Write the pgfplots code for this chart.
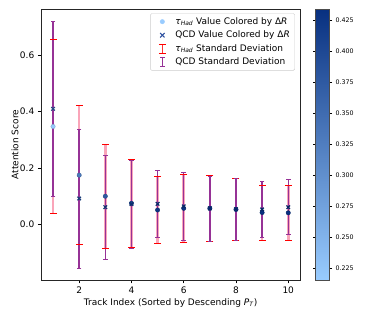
\documentclass[border=0pt]{standalone}
\usepackage{fontspec}
\setmainfont{DejaVu Sans}
\usepackage{pgfplots}
\usepackage{pgfplotstable}
\pgfplotsset{compat=1.18}

\definecolor{cbLow}{RGB}{153,204,255}
\definecolor{cbHigh}{RGB}{8,48,128}
\definecolor{qcdLeg}{RGB}{45,80,160}
\definecolor{errPurple}{RGB}{150,50,150}
\definecolor{errRed}{RGB}{250,165,185}

% x, tau mean, tau dR, qcd mean, qcd dR
\pgfplotstableread{
x  t     tc     q     qc
1  0.347 0.2155 0.410 0.370
2  0.174 0.330  0.091 0.395
3  0.099 0.375  0.060 0.410
4  0.074 0.410  0.071 0.420
5  0.050 0.425  0.072 0.425
6  0.056 0.428  0.063 0.428
7  0.056 0.430  0.056 0.430
8  0.052 0.432  0.053 0.432
9  0.041 0.433  0.052 0.433
10 0.040 0.434  0.060 0.434
}\means

% tau mean -/+ one standard deviation (one segment per track)
\pgfplotstableread{
x   y
1   0.037
1   0.657
1   nan
2  -0.073
2   0.421
2   nan
3  -0.085
3   0.283
3   nan
4  -0.083
4   0.231
4   nan
5  -0.069
5   0.169
5   nan
6  -0.064
6   0.176
6   nan
7  -0.060
7   0.172
7   nan
8  -0.058
8   0.162
8   nan
9  -0.057
9   0.139
9   nan
10 -0.058
10  0.138
}\tauerr

% QCD mean -/+ one standard deviation
\pgfplotstableread{
x   y
1   0.100
1   0.720
1   nan
2  -0.156
2   0.338
2   nan
3  -0.124
3   0.244
3   nan
4  -0.086
4   0.228
4   nan
5  -0.046
5   0.190
5   nan
6  -0.057
6   0.183
6   nan
7  -0.060
7   0.171
7   nan
8  -0.057
8   0.162
8   nan
9  -0.046
9   0.150
9   nan
10 -0.037
10  0.158
}\qcderr

\newcommand{\tauhad}{\textit{τ}\textsubscript{\textit{Had}}}

\begin{document}
\begin{tikzpicture}
\begin{axis}[
  name=main,
  scale only axis,
  width=258.7pt, height=270.7pt,
  xmin=0.55, xmax=10.45,
  ymin=-0.199, ymax=0.764,
  xtick={2,4,6,8,10},
  ytick={0,0.2,0.4,0.6},
  yticklabel style={/pgf/number format/.cd, fixed, fixed zerofill, precision=1},
  /pgf/number format/assume math mode=true,
  tick align=outside,
  xtick pos=bottom, ytick pos=left,
  major tick length=3.5pt,
  tick style={black, line width=0.6pt},
  axis line style={black!85, line width=0.6pt},
  ticklabel style={font=\fontsize{9}{10}\selectfont},
  label style={font=\fontsize{9}{10}\selectfont},
  xlabel={Track Index (Sorted by Descending \textit{P}\textsubscript{\textit{T}})},
  ylabel={Attention Score},
  xlabel style={at={(axis description cs:0.5,-0.0924)}, anchor=base},
  ylabel style={at={(axis description cs:-0.0889,0.5)}, anchor=base, rotate=0},
  unbounded coords=jump,
  colormap={drblues}{rgb255=(153,204,255) rgb255=(8,48,128)},
  point meta min=0.2155, point meta max=0.434,
  colorbar,
  colorbar style={
    at={(parent axis.north east)}, anchor=north west, xshift=7pt,
    scale only axis, width=14pt, height=270.7pt,
    ytick={0.225,0.25,0.275,0.3,0.325,0.35,0.375,0.4,0.425},
    yticklabel style={font=\fontsize{6.3}{7}\selectfont,
      /pgf/number format/.cd, fixed, fixed zerofill, precision=3,
      assume math mode=true},
    tick align=outside, major tick length=2.5pt,
    tick style={black, line width=0.5pt},
    axis line style={black!70, line width=0.6pt},
  },
  legend style={at={(1,1)}, anchor=north east, xshift=-5pt, yshift=-4pt,
    draw=black!20, fill=white, rounded corners=1.5pt,
    font=\fontsize{9}{10}\selectfont, row sep=1.2pt,
    inner xsep=3pt, inner ysep=2pt},
  legend cell align=left,
]
\addlegendimage{legend image code/.code={
  \path[draw=none] (0pt,0pt) -- (20pt,0pt);
  \fill[cbLow] (9pt,0pt) circle (2.2pt);}}
\addlegendentry{\tauhad{} Value Colored by Δ\textit{R}}
\addlegendimage{legend image code/.code={
  \path[draw=none] (0pt,0pt) -- (20pt,0pt);
  \draw[qcdLeg, line width=1.1pt] (9pt-2.2pt,-2.2pt) -- (9pt+2.2pt,2.2pt) (9pt-2.2pt,2.2pt) -- (9pt+2.2pt,-2.2pt);}}
\addlegendentry{QCD Value Colored by Δ\textit{R}}
\addlegendimage{legend image code/.code={
  \path[draw=none] (0pt,0pt) -- (20pt,0pt);
  \draw[red!80, line width=1pt] (9pt,-4.5pt) -- (9pt,4.5pt);
  \draw[red, line width=0.8pt] (9pt-3.5pt,-4.5pt) -- ++(7pt,0) (9pt-3.5pt,4.5pt) -- ++(7pt,0);}}
\addlegendentry{\tauhad{} Standard Deviation}
\addlegendimage{legend image code/.code={
  \path[draw=none] (0pt,0pt) -- (20pt,0pt);
  \draw[errPurple, line width=1pt] (9pt,-4.5pt) -- (9pt,4.5pt);
  \draw[errPurple, line width=0.8pt] (9pt-2.3pt,-4.5pt) -- ++(4.6pt,0) (9pt-2.3pt,4.5pt) -- ++(4.6pt,0);}}
\addlegendentry{QCD Standard Deviation}

% tau standard deviation
\addplot[forget plot, errRed, line width=2.6pt,
  mark=-, mark size=3.5pt, mark options={draw=red, line width=0.8pt}]
  table[x=x, y=y] {\tauerr};
% qcd standard deviation
\addplot[forget plot, errPurple, line width=1.4pt,
  mark=-, mark size=2.3pt, mark options={draw=errPurple, line width=0.8pt}]
  table[x=x, y=y] {\qcderr};

% points coloured by Delta R
\addplot[forget plot, scatter, only marks, mark=*, mark size=2.2pt,
  scatter src=explicit]
  table[x=x, y=t, meta=tc] {\means};
\addplot[forget plot, scatter, only marks, mark=x, mark size=2.5pt,
  line width=1.2pt, scatter src=explicit]
  table[x=x, y=q, meta=qc] {\means};
\end{axis}
\pgfresetboundingbox
\path[use as bounding box] (main.south west) ++(-41.3pt,-40pt) rectangle ++(374pt,320pt);
\end{tikzpicture}
\end{document}
